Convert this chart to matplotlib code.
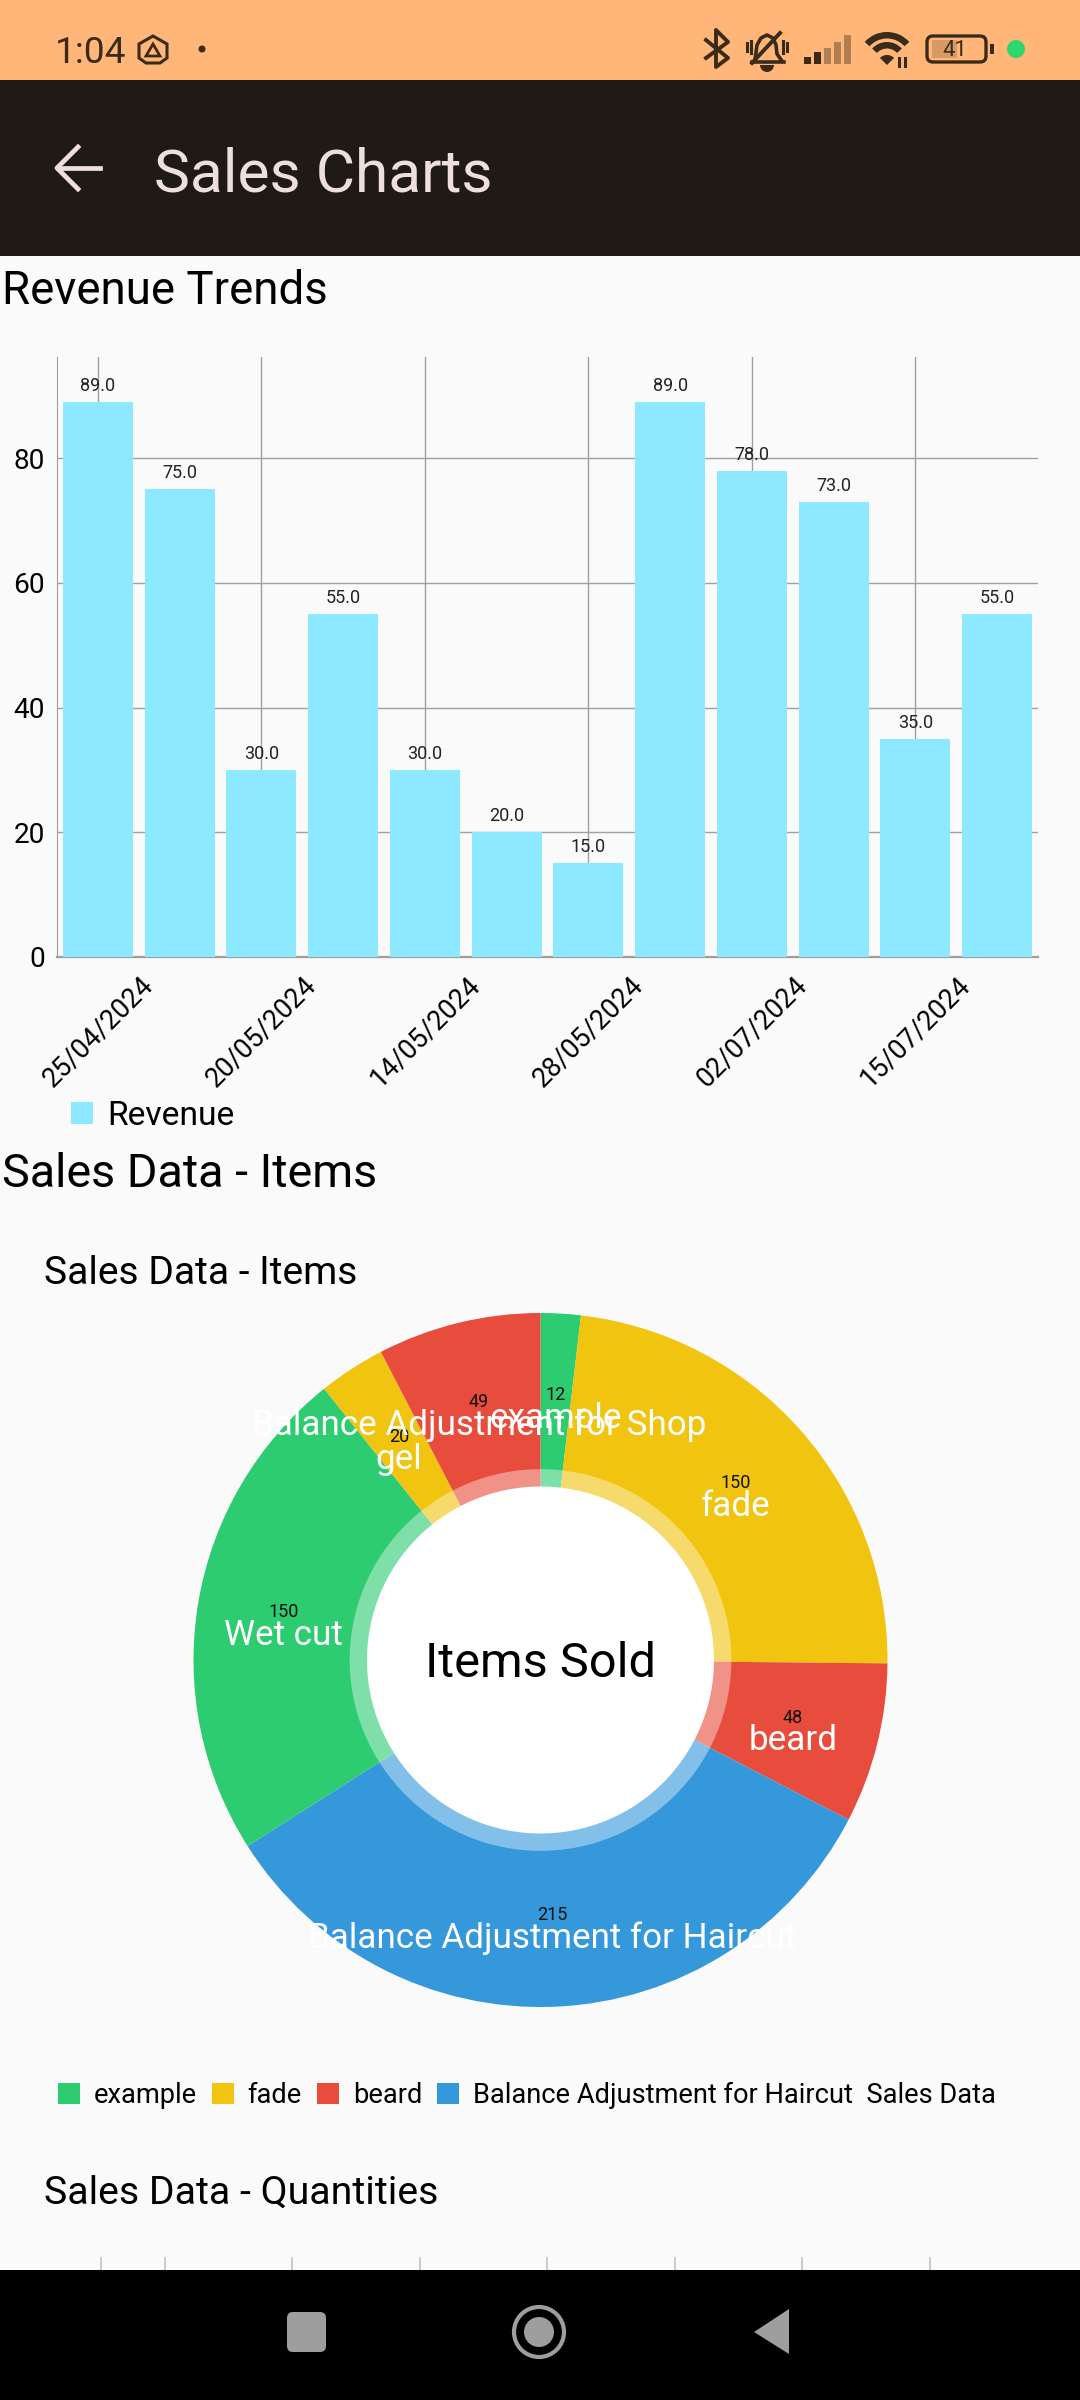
import matplotlib
matplotlib.use("Agg")
import matplotlib.pyplot as plt
from matplotlib.patches import Circle, FancyBboxPatch, Polygon, Rectangle, Wedge
import numpy as np

plt.rcParams['font.family'] = ['Roboto', 'DejaVu Sans']

W, H = 1080, 2400

# revenue chart
revenue_values = [89, 75, 30, 55, 30, 20, 15, 89, 78, 73, 35, 55]
revenue_ticks = ['25/04/2024', '20/05/2024', '14/05/2024', '28/05/2024', '02/07/2024', '15/07/2024']
revenue_yticks = [0, 20, 40, 60, 80]

# items donut
item_names = ['example', 'fade', 'beard', 'Balance Adjustment for Haircut', 'Wet cut', 'gel',
              'Balance Adjustment for Shop']
item_values = [12, 150, 48, 215, 150, 20, 49]
item_colors = ['#2ecc71', '#f1c40f', '#e74c3c', '#3498db', '#2ecc71', '#f1c40f', '#e74c3c']
legend_names = ['example', 'fade', 'beard', 'Balance Adjustment for Haircut  Sales Data']

# third chart, only the tips of its grid lines are on screen
quantity_grid = [-0.5, 0, 1, 2, 3, 4, 5, 6]


def pt(px):
    return px * 0.72


def px_axes(left, top, right, bottom):
    return fig.add_axes([left / W, 1 - bottom / H, (right - left) / W, (bottom - top) / H])


fig = plt.figure(figsize=(W / 100, H / 100), dpi=100, facecolor='#fafafa')

# screen furniture in pixel coordinates
ui = fig.add_axes([0, 0, 1, 1])
ui.set_xlim(0, W)
ui.set_ylim(H, 0)
ui.axis('off')
ui.add_patch(Rectangle((0, 0), W, 80, color='#ffb678', lw=0))
ui.add_patch(Rectangle((0, 80), W, 176, color='#201a17', lw=0))

dark = '#3a2a18'
ui.text(55, 63, '1:04', fontsize=pt(37), color=dark)
ui.add_patch(Polygon([(153, 36), (167, 44), (167, 58), (160, 63), (146, 63), (139, 58), (139, 44)], closed=True,
                     fill=False, ec=dark, lw=2.2))
ui.add_patch(Polygon([(153, 44), (160, 56), (146, 56)], closed=True, fill=False, ec=dark, lw=2))
ui.add_patch(Circle((202, 49), 3.5, color=dark, lw=0))

# bluetooth
ui.plot([706, 728, 716, 716, 728, 706], [40, 58, 67, 30, 42, 58], color=dark, lw=2.8)
# muted bell
ui.plot([755, 757, 761, 767, 773, 776, 777, 782], [60, 45, 38, 35, 38, 45, 54, 61], color=dark, lw=2.6)
ui.plot([752, 784], [62, 62], color=dark, lw=2.6)
ui.plot([752, 780], [63, 33], color=dark, lw=2.8)
ui.plot([747, 747], [43, 51], color=dark, lw=2.2)
ui.plot([751, 751], [41, 53], color=dark, lw=2.2)
ui.plot([783, 783], [41, 53], color=dark, lw=2.2)
ui.plot([787, 787], [43, 51], color=dark, lw=2.2)
ui.add_patch(Wedge((767, 65), 7, 0, 180, color=dark, lw=0))
# signal
for i, (bx, top) in enumerate(zip([807, 817, 827, 837, 847], [57, 52, 48, 42, 35])):
    ui.add_patch(Rectangle((bx - 3.5, top), 7, 64 - top, color=dark, alpha=1 if i < 2 else 0.4, lw=0))
# wifi
for r in [30, 20]:
    ui.add_patch(Wedge((887, 62), r, 222, 318, width=6.5, color=dark, lw=0))
ui.add_patch(Wedge((887, 65), 10, 225, 315, color=dark, lw=0))
ui.plot([899, 899], [58, 66], color=dark, lw=2.2)
ui.plot([905, 905], [58, 66], color=dark, lw=2.2)
# battery
ui.add_patch(FancyBboxPatch((927, 36), 59, 26, boxstyle='round,pad=0,rounding_size=6', fill=False, ec=dark, lw=2.4))
ui.add_patch(Rectangle((932, 40), 25, 18, color=dark, alpha=0.2, lw=0))
ui.add_patch(Rectangle((990, 44), 4, 10, color=dark, lw=0))
ui.text(955, 50, '41', fontsize=pt(22), color=dark, ha='center', va='center')
ui.add_patch(Circle((1016, 49), 9, color='#2fd66e', lw=0))

# app bar
ui.plot([100, 58], [168, 168], color='#ede0da', lw=3.4)
ui.plot([78, 57, 78], [147, 168, 189], color='#ede0da', lw=3.4)
ui.text(154, 191, 'Sales Charts', fontsize=pt(60.5), color='#ede0da')

ui.text(2, 304, 'Revenue Trends', fontsize=pt(45.7), color='black')
ui.text(2, 1187, 'Sales Data - Items', fontsize=pt(46.8), color='black')
ui.text(44, 1284, 'Sales Data - Items', fontsize=pt(39), color='black')
ui.text(44, 2204, 'Sales Data - Quantities', fontsize=pt(39.2), color='black')

# revenue bars
ax = px_axes(57, 357, 1038, 957)
ax.set_facecolor('none')
x = np.arange(len(revenue_values))
bars = ax.bar(x, revenue_values, width=0.857, color='#8ce9ff', zorder=3, label='Revenue')
ax.bar_label(bars, fmt='%.1f', padding=pt(7), fontsize=pt(18), color='#222222', zorder=4)
ax.set_xlim(-0.5, 11.5)
ax.set_ylim(0, 96.2)
ax.set_xticks(np.arange(0, 12, 2))
ax.set_xticklabels(revenue_ticks, rotation=45, ha='center', fontsize=pt(27), color='black')
ax.set_yticks(revenue_yticks)
ax.tick_params(axis='y', length=0, pad=pt(12), labelsize=pt(28))
ax.tick_params(axis='x', length=0, pad=pt(14))
ax.grid(True, color='#a0a0a0', lw=1.0, zorder=0)
ax.set_axisbelow(True)
for side in ['top', 'right']:
    ax.spines[side].set_visible(False)
ax.spines['left'].set_color('#9e9e9e')
ax.spines['bottom'].set_color('#9e9e9e')
ax.spines['bottom'].set_linewidth(1.6)
fig.legend(handles=[bars], labels=['Revenue'], loc='upper left', bbox_to_anchor=(71 / W, 1 - 1100 / H),
           frameon=False, fontsize=pt(33.6), borderpad=0, borderaxespad=0, handlelength=0.65, handleheight=0.65,
           handletextpad=0.43)

# items donut
pie_ax = px_axes(540.5 - 347, 1660 - 347, 540.5 + 347, 1660 + 347)
wedges, _ = pie_ax.pie(item_values, colors=item_colors, startangle=90, counterclock=False, radius=1)
pie_ax.set_xlim(-1, 1)
pie_ax.set_ylim(-1, 1)
pie_ax.add_patch(Circle((0, 0), 0.55, color='white', alpha=100 / 255, lw=0))
pie_ax.add_patch(Circle((0, 0), 0.5, color='white', lw=0))
pie_ax.text(0, -0.05, 'Items Sold', ha='center', va='baseline', fontsize=pt(48.8), color='black')

total = sum(item_values)
cum = np.cumsum(item_values) - np.array(item_values) / 2
for name, val, c in zip(item_names, item_values, cum):
    ang = 2 * np.pi * c / total
    xy = (0.75 * np.sin(ang), 0.75 * np.cos(ang))
    pie_ax.annotate(str(val), xy, xytext=(0, pt(5)), textcoords='offset points', ha='center', va='center',
                    fontsize=pt(18), color='#111111', annotation_clip=False)
    pie_ax.annotate(name, xy, xytext=(0, -pt(18)), textcoords='offset points', ha='center', va='center',
                    fontsize=pt(35), color='white', annotation_clip=False)

# the last slices have no room in the legend row
leg_handles = wedges[:4]
fig.legend(handles=leg_handles, labels=legend_names, loc='upper left', bbox_to_anchor=(58 / W, 1 - 2082 / H), ncols=4,
           frameon=False, fontsize=pt(27.3), borderpad=0, borderaxespad=0, handlelength=0.8, handleheight=0.8,
           handletextpad=0.51, columnspacing=0.55)

# third chart cut off by the navigation bar
q_ax = px_axes(101, 2257, 930, 2270)
q_ax.set_xlim(-0.5, 6)
q_ax.set_ylim(0, 1)
q_ax.axis('off')
q_ax.vlines(quantity_grid, 0, 1, color='#bdbdbd', lw=1.1, clip_on=False)

# navigation bar on top of everything
nav = fig.add_axes([0, 0, 1, 1], zorder=10)
nav.set_xlim(0, W)
nav.set_ylim(H, 0)
nav.axis('off')
nav.patch.set_alpha(0)
nav.add_patch(Rectangle((0, 2270), W, 130, color='black', lw=0))
nav.add_patch(FancyBboxPatch((287, 2312), 39, 40, boxstyle='round,pad=0,rounding_size=6', color='#9e9e9e', lw=0))
nav.add_patch(Circle((539, 2332), 25, fill=False, ec='#9e9e9e', lw=3))
nav.add_patch(Circle((539, 2332), 15, color='#9e9e9e', lw=0))
nav.add_patch(Polygon([(754, 2332), (789, 2309), (789, 2354)], closed=True, color='#9e9e9e', lw=0))

fig.savefig('out.png', dpi=100, facecolor=fig.get_facecolor())
